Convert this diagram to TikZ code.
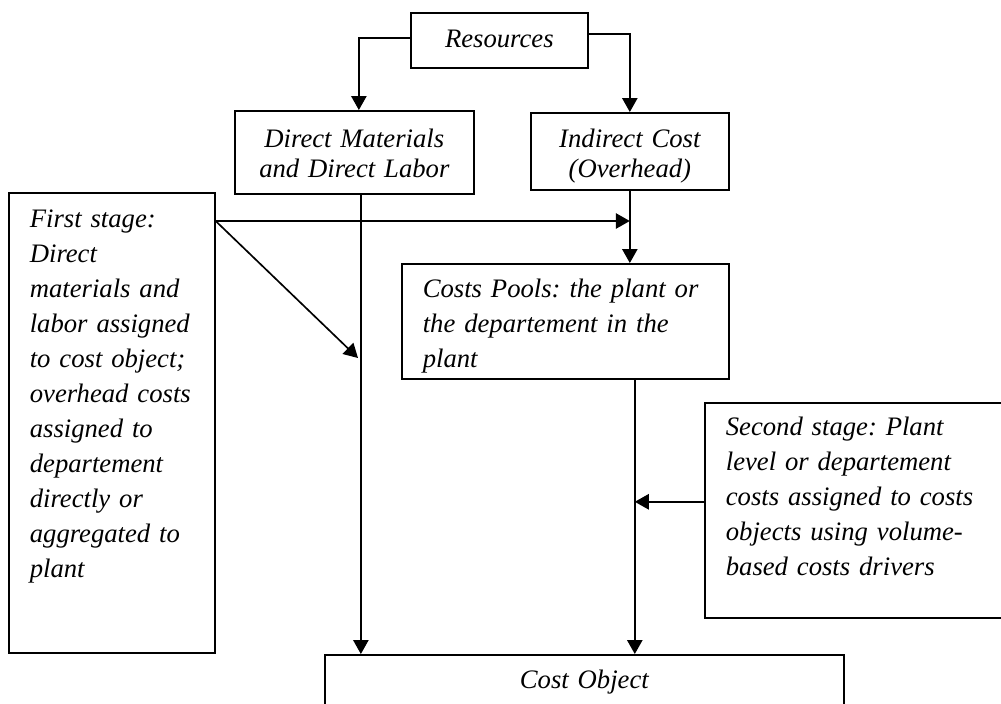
\documentclass[tikz,border=0pt]{standalone}
\usepackage{fontspec}
\setmainfont{Liberation Serif}
\frenchspacing
\usetikzlibrary{arrows.meta}

\tikzset{every picture/.style={line width=1.25pt}}
\tikzset{
  cbox/.style={draw, anchor=north west, inner ysep=0pt, font=\fontsize{20}{26.25}\selectfont\itshape},
  arr/.style={-{Triangle[length=10.5pt,width=11.5pt]}},
}

\begin{document}
\begin{tikzpicture}[x=0.75pt,y=0.75pt,yscale=-1,xscale=1]
%set diagram at 1001 x 704
\useasboundingbox (0,0) rectangle (1001,704);
\clip (0,0) rectangle (1001,704);

%Shape: Rectangle [Resources]
\node[cbox, inner xsep=0pt, text width=132.75pt, align=center, text height=26.25pt, text depth=15pt] (res) at (410,12) {Resources};
%Shape: Rectangle [direct costs]
\node[cbox, inner xsep=0pt, text width=179.25pt, align=center, text height=27.75pt, text depth=34.5pt, font=\fontsize{20}{22.5}\selectfont\itshape] (dm) at (234,110) {Direct Materials\\and Direct Labor};
%Shape: Rectangle [indirect costs]
\node[cbox, inner xsep=0pt, text width=148.5pt, align=center, text height=26.25pt, text depth=31.5pt, font=\fontsize{20}{22.5}\selectfont\itshape] (ind) at (530,112) {Indirect Cost\\(Overhead)};
%Shape: Rectangle [first stage]
\node[cbox, inner xsep=15.75pt, text width=123pt, align=left, text height=26.25pt, text depth=318.75pt] (first) at (8,192) {First stage:\\Direct\\materials and\\labor assigned\\to cost object;\\overhead costs\\assigned to\\departement\\directly or\\aggregated to\\plant};
%Shape: Rectangle [cost pools]
\node[cbox, inner xsep=15.75pt, text width=213.75pt, align=left, text height=25.5pt, text depth=60.75pt] (pools) at (401,263) {Costs Pools: the plant or\\the departement in the\\plant};
%Shape: Rectangle [second stage]
\node[cbox, inner xsep=15.75pt, text width=208.5pt, align=left, text height=24.75pt, text depth=136.5pt] (second) at (704,402) {Second stage: Plant\\level or departement\\costs assigned to costs\\objects using volume-\\based costs drivers};
%Shape: Rectangle [cost object]
\node[cbox, inner xsep=0pt, text width=389.25pt, align=center, text height=25.5pt, text depth=40pt] (obj) at (324,654) {Cost Object};

%Coordinates (yshift runs downward here, as yscale=-1)
\coordinate (dmline) at ([xshift=4.9pt]dm.south);
\coordinate (drop) at ([xshift=52.1pt]pools.south);
\coordinate (hit) at ([yshift=21.75pt]first.north east);
\coordinate (tip1) at (358,358);

%Straight Lines [from resources]
\draw[arr] ([yshift=-1.9pt]res.west) -| ([xshift=3.4pt]dm.north);
\draw[arr] ([yshift=-4.9pt]res.east) -| (ind.north);
%Straight Lines [down to pools and object]
\draw[arr] (ind.south) -- (ind.south |- pools.north);
\draw[arr] (dmline) -- (dmline |- obj.north);
\draw[arr] (drop) -- (drop |- obj.north);
%Straight Lines [first stage]
\draw[arr] (hit) -- (hit -| ind.south);
\draw[arr] (hit) -- (tip1);
%Straight Lines [second stage]
\draw[arr] ([yshift=-6.4pt]second.west) -- ([yshift=-6.4pt]second.west -| drop);

\end{tikzpicture}
\end{document}
